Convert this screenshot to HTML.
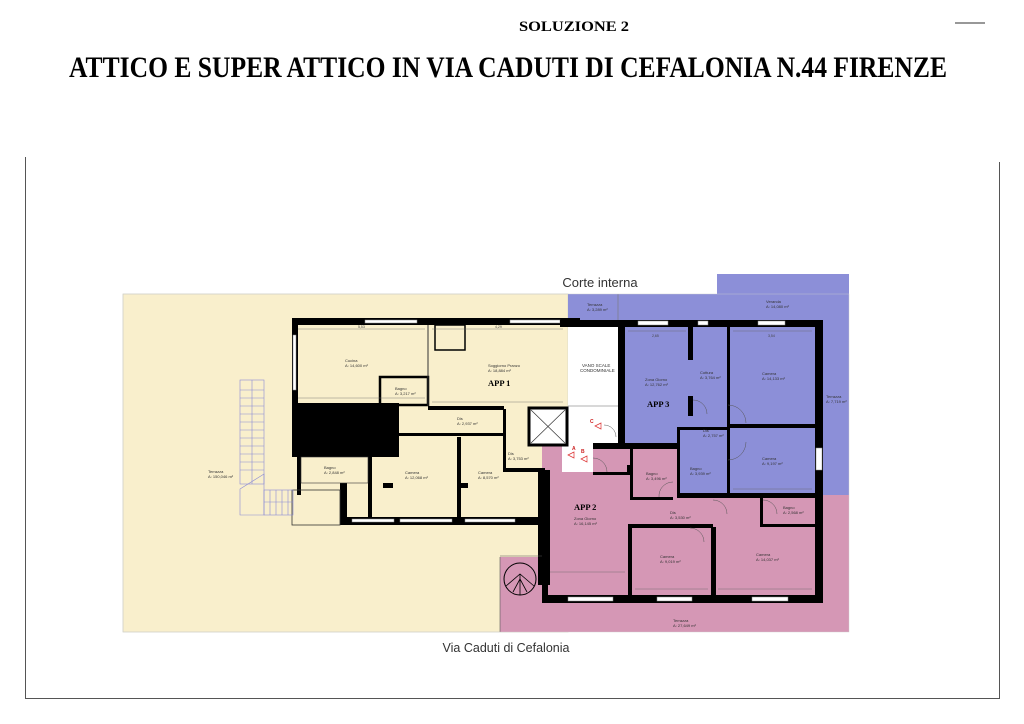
<!DOCTYPE html>
<html><head><meta charset="utf-8"><style>
html,body{margin:0;padding:0;background:#fff;}
svg{display:block;}
</style></head><body>
<svg width="1024" height="724" viewBox="0 0 1024 724" xmlns="http://www.w3.org/2000/svg" font-family="Liberation Sans, sans-serif">
<rect width="1024" height="724" fill="#fff"/>
<text x="574" y="31" font-family="Liberation Serif, serif" font-weight="bold" font-size="15" text-anchor="middle" textLength="110" lengthAdjust="spacingAndGlyphs">SOLUZIONE 2</text>
<text x="508" y="77" font-family="Liberation Serif, serif" font-weight="bold" font-size="30" text-anchor="middle" textLength="878" lengthAdjust="spacingAndGlyphs">ATTICO E SUPER ATTICO IN VIA CADUTI DI CEFALONIA N.44 FIRENZE</text>
<line x1="955" y1="23" x2="985" y2="23" stroke="#777" stroke-width="1.5"/>
<path d="M25.5 157 V698.5 H999.5 V162" fill="none" stroke="#555" stroke-width="1"/>

<rect x="123" y="294" width="445" height="338" fill="#f9efcc" stroke="#d8d8c8" stroke-width="0.8"/>
<rect x="568" y="294" width="149" height="30" fill="#8c8fd8"/>
<rect x="717" y="274" width="132" height="50" fill="#8c8fd8"/>
<rect x="618" y="320" width="205" height="178" fill="#8c8fd8"/>
<rect x="542" y="445" width="307" height="187" fill="#d597b5"/>
<rect x="823" y="493" width="26" height="139" fill="#d597b5"/>
<rect x="500" y="557" width="48" height="75" fill="#d597b5"/>
<rect x="823" y="294" width="26" height="201" fill="#8c8fd8"/>
<rect x="677" y="320" width="146" height="177" fill="#8c8fd8"/>
<rect x="618" y="443" width="60" height="6" fill="#8c8fd8"/>
<rect x="568" y="326" width="50" height="119" fill="#fff"/>
<rect x="562" y="445" width="31" height="27" fill="#fff"/>
<line x1="568" y1="406" x2="618" y2="406" stroke="#999" stroke-width="0.8"/>
<text x="582" y="367" font-size="4.5" fill="#333">VANO SCALE</text>
<text x="580" y="372" font-size="4.5" fill="#333">CONDOMINIALE</text>
<line x1="618" y1="294" x2="618" y2="320" stroke="#777" stroke-width="0.6"/>

<text x="600" y="287" font-size="13" text-anchor="middle" fill="#333">Corte interna</text>
<text x="506" y="652" font-size="12.5" text-anchor="middle" fill="#333">Via Caduti di Cefalonia</text>

<g fill="#000">
<rect x="292" y="318" width="288" height="7"/>
<rect x="292" y="318" width="6" height="85"/>
<rect x="292" y="403" width="107" height="54"/>
<rect x="297" y="457" width="4" height="38"/>
<rect x="340" y="483" width="7" height="42"/>
<rect x="340" y="517" width="210" height="8"/>
<rect x="538" y="470" width="12" height="115"/>
<rect x="503" y="409" width="3" height="61"/>
<rect x="503" y="468" width="42" height="4"/>
<rect x="457" y="437" width="4" height="80"/>
<rect x="368" y="455" width="4" height="62"/>
<rect x="428" y="406" width="76" height="4"/>
<rect x="399" y="433" width="105" height="3"/>
<rect x="383" y="483" width="10" height="5"/>
<rect x="458" y="483" width="10" height="5"/>
</g>
<g fill="#fff" stroke="#888" stroke-width="0.5">
<rect x="365" y="320" width="52" height="3"/>
<rect x="510" y="320" width="50" height="3"/>
<rect x="293" y="335" width="3" height="55"/>
<rect x="352" y="519" width="42" height="3"/>
<rect x="400" y="519" width="52" height="3"/>
<rect x="465" y="519" width="50" height="3"/>
</g>
<rect x="380" y="377" width="48" height="28" fill="none" stroke="#000" stroke-width="2.5"/>
<line x1="428" y1="325" x2="428" y2="406" stroke="#333" stroke-width="1"/>
<rect x="292" y="490" width="48" height="35" fill="none" stroke="#333" stroke-width="0.8"/>
<rect x="301" y="457" width="67" height="26" fill="none" stroke="#333" stroke-width="0.6"/>
<rect x="435" y="325" width="30" height="25" fill="none" stroke="#000" stroke-width="1.5"/>
<rect x="529" y="408" width="38" height="37" fill="#fff" stroke="#000" stroke-width="3"/>
<path d="M531 410 L565 443 M565 410 L531 443" stroke="#333" stroke-width="0.7"/>
<g font-size="4" fill="#333">
<text x="345" y="362">Cucina</text><text x="345" y="367">A: 14,600 m²</text>
<text x="488" y="367">Soggiorno Pranzo</text><text x="488" y="372">A: 18,884 m²</text>
<text x="395" y="390">Bagno</text><text x="395" y="395">A: 3,217 m²</text>
<text x="457" y="420">Dis</text><text x="457" y="425">A: 2,937 m²</text>
<text x="324" y="469">Bagno</text><text x="324" y="474">A: 2,848 m²</text>
<text x="405" y="474">Camera</text><text x="405" y="479">A: 12,068 m²</text>
<text x="478" y="474">Camera</text><text x="478" y="479">A: 8,570 m²</text>
<text x="508" y="455">Dis</text><text x="508" y="460">A: 3,753 m²</text>
<text x="208" y="473">Terrazza</text><text x="208" y="478">A: 150,046 m²</text>
</g>
<text x="488" y="386" font-family="Liberation Serif, serif" font-weight="bold" font-size="8.5">APP 1</text>
<g stroke="#8a8ad6" stroke-width="0.6" fill="none">
<rect x="240" y="380" width="24" height="104"/>
<line x1="252" y1="380" x2="252" y2="484"/>
<path d="M240 390 H264 M240 398 H264 M240 406 H264 M240 414 H264 M240 422 H264 M240 430 H264 M240 438 H264 M240 446 H264 M240 454 H264 M240 462 H264 M240 470 H264"/>
<path d="M240 489 L264 474 L264 515 H240 Z"/>
<rect x="264" y="490" width="29" height="25"/>
<path d="M270 490 V515 M276 490 V515 M282 490 V515 M288 490 V515 M264 502 H293"/>
</g>

<g fill="#000">
<rect x="560" y="320" width="263" height="7"/>
<rect x="815" y="320" width="8" height="282"/>
<rect x="618" y="320" width="7" height="125"/>
<rect x="688" y="326" width="5" height="34"/>
<rect x="688" y="396" width="5" height="20"/>
<rect x="727" y="326" width="3" height="170"/>
<rect x="730" y="424" width="85" height="4"/>
<rect x="677" y="427" width="3" height="70"/>
<rect x="677" y="427" width="52" height="3"/>
<rect x="677" y="493" width="146" height="5"/>
<rect x="593" y="443" width="85" height="6"/>
<rect x="618" y="358" width="4" height="20"/>
</g>
<g fill="#fff" stroke="#888" stroke-width="0.5">
<rect x="638" y="321" width="30" height="4"/>
<rect x="698" y="321" width="10" height="4"/>
<rect x="758" y="321" width="27" height="4"/>
<rect x="816" y="448" width="6" height="22"/>
</g>
<g stroke="#555" stroke-width="0.5" fill="none">
<path d="M728 405 A18 18 0 0 1 746 423"/><path d="M728 460 A18 18 0 0 0 746 442"/>
<path d="M693 400 A14 14 0 0 1 707 414"/>
</g>
<g font-size="4" fill="#333">
<text x="645" y="381">Zona Giorno</text><text x="645" y="386">A: 12,762 m²</text>
<text x="700" y="374">Cottura</text><text x="700" y="379">A: 3,764 m²</text>
<text x="762" y="375">Camera</text><text x="762" y="380">A: 14,133 m²</text>
<text x="703" y="432">Dis</text><text x="703" y="437">A: 2,757 m²</text>
<text x="762" y="460">Camera</text><text x="762" y="465">A: 9,197 m²</text>
<text x="690" y="470">Bagno</text><text x="690" y="475">A: 3,939 m²</text>
<text x="766" y="303">Veranda</text><text x="766" y="308">A: 14,080 m²</text>
<text x="587" y="306">Terrazza</text><text x="587" y="311">A: 3,289 m²</text>
<text x="826" y="398">Terrazza</text><text x="826" y="403">A: 7,719 m²</text>
</g>
<text x="647" y="407" font-family="Liberation Serif, serif" font-weight="bold" font-size="8.5">APP 3</text>

<g fill="#000">
<rect x="542" y="470" width="6" height="130"/>
<rect x="542" y="595" width="281" height="8"/>
<rect x="593" y="472" width="40" height="3"/>
<rect x="630" y="448" width="3" height="52"/>
<rect x="630" y="497" width="43" height="3"/>
<rect x="628" y="525" width="4" height="75"/>
<rect x="628" y="524" width="85" height="4"/>
<rect x="711" y="527" width="5" height="70"/>
<rect x="760" y="497" width="3" height="30"/>
<rect x="760" y="524" width="57" height="3"/>
<rect x="627" y="465" width="3" height="10"/>
</g>
<g fill="#fff" stroke="#888" stroke-width="0.5">
<rect x="568" y="597" width="45" height="4"/>
<rect x="657" y="597" width="35" height="4"/>
<rect x="752" y="597" width="36" height="4"/>
</g>
<g stroke="#555" stroke-width="0.5" fill="none">
<path d="M593 458 A14 14 0 0 1 607 472"/><path d="M673 482 A14 14 0 0 0 659 497"/>
<path d="M713 500 A14 14 0 0 1 727 514"/><path d="M763 500 A14 14 0 0 1 777 514"/>
<path d="M690 528 A14 14 0 0 1 704 542"/>
<path d="M604 425 A12 12 0 0 1 616 437"/>
</g>
<g font-size="4" fill="#333">
<text x="574" y="520">Zona Giorno</text><text x="574" y="525">A: 16,145 m²</text>
<text x="646" y="475">Bagno</text><text x="646" y="480">A: 3,496 m²</text>
<text x="670" y="514">Dis</text><text x="670" y="519">A: 3,530 m²</text>
<text x="660" y="558">Camera</text><text x="660" y="563">A: 9,019 m²</text>
<text x="756" y="556">Camera</text><text x="756" y="561">A: 14,037 m²</text>
<text x="783" y="509">Bagno</text><text x="783" y="514">A: 2,568 m²</text>
<text x="673" y="622">Terrazza</text><text x="673" y="627">A: 27,649 m²</text>
</g>
<text x="574" y="510" font-family="Liberation Serif, serif" font-weight="bold" font-size="8.5">APP 2</text>
<g fill="none" stroke="#d33" stroke-width="0.7">
<path d="M568 455 l6 -3 v6 z"/><path d="M581 459 l6 -3 v6 z"/><path d="M595 426 l6 -3 v6 z"/>
</g>
<g font-size="5" fill="#c22" font-weight="bold"><text x="572" y="450">A</text><text x="581" y="453">B</text><text x="590" y="423">C</text></g>
<circle cx="520" cy="579" r="16" fill="none" stroke="#000" stroke-width="1"/>
<path d="M506 586 L520 574 L534 586 M513 592 L520 579 L527 592 M520 574 V595" fill="none" stroke="#000" stroke-width="0.8"/>
<line x1="500" y1="557" x2="500" y2="632" stroke="#555" stroke-width="0.6"/>
<line x1="500" y1="556" x2="542" y2="556" stroke="#555" stroke-width="0.6"/>
<g stroke="#666" stroke-width="0.4">
<line x1="298" y1="329" x2="425" y2="329"/><line x1="432" y1="329" x2="563" y2="329"/>
<line x1="298" y1="398" x2="425" y2="398"/><line x1="432" y1="402" x2="563" y2="402"/>
<line x1="628" y1="331" x2="686" y2="331"/><line x1="733" y1="331" x2="812" y2="331"/>
<line x1="733" y1="489" x2="812" y2="489"/><line x1="550" y1="572" x2="625" y2="572"/>
<line x1="635" y1="589" x2="708" y2="589"/><line x1="718" y1="589" x2="812" y2="589"/>
</g>
<g font-size="3.5" fill="#444">
<text x="358" y="328">5,53</text><text x="495" y="328">4,29</text><text x="652" y="337">2,65</text><text x="768" y="337">3,54</text>
</g>
<rect x="123" y="294" width="726" height="338" fill="none" stroke="#ccc" stroke-width="0.4"/>
</svg>
</body></html>
